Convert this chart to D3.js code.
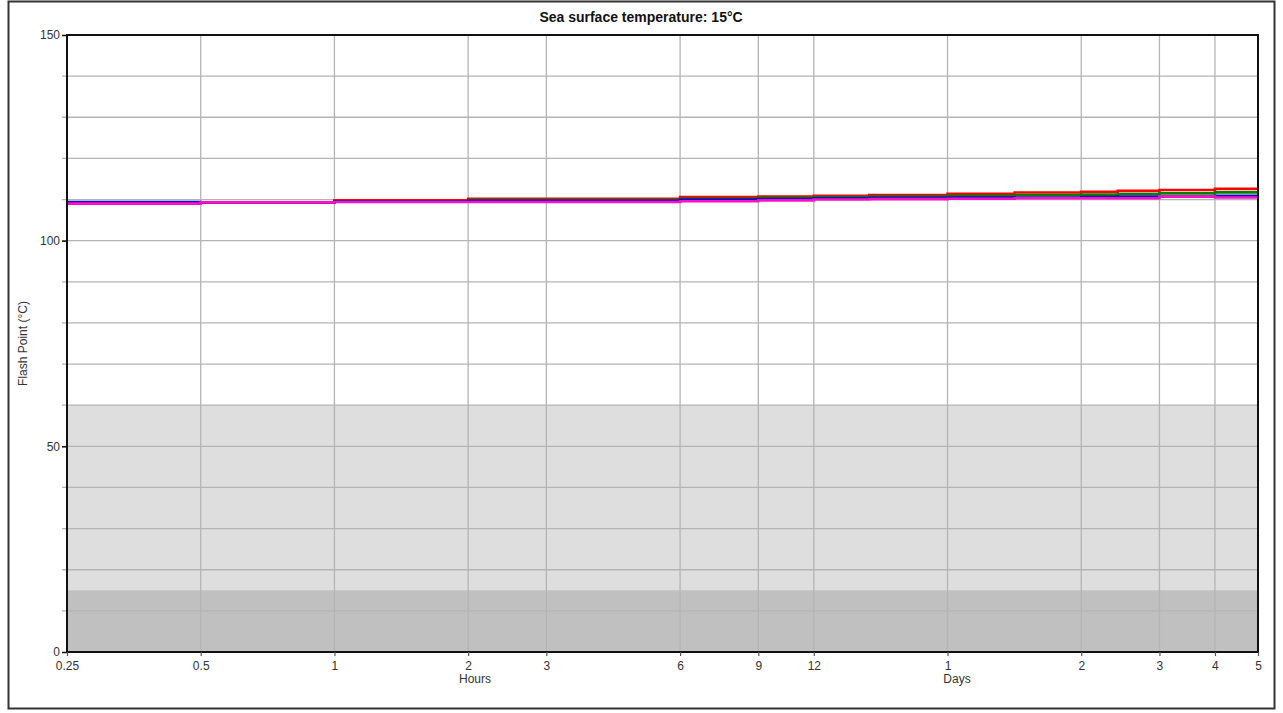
<!DOCTYPE html>
<html>
<head>
<meta charset="utf-8">
<script src="https://cdn.jsdelivr.net/npm/d3@7"></script>
<style>
  html, body { margin: 0; padding: 0; background: #fff; }
  svg { display: block; font-family: "Liberation Sans", Arial, sans-serif; }
</style>
</head>
<body>
<svg id="chart" width="1283" height="713"></svg>
<script>
// Elapsed time (hours) at which each step of the flash point curves begins
const timesHours = [0.25, 0.5, 1, 2, 6, 9, 12, 16, 24, 34, 48, 58, 72, 96, 120];

// Flash point (°C) per oil component curve
const seriesRed     = [109.3, 109.3, 109.8, 110.2, 110.6, 110.7, 110.9, 111.1, 111.4, 111.7, 111.9, 112.1, 112.3, 112.6, 112.6];
const seriesGreen   = [109.2, 109.3, 109.6, 109.9, 110.2, 110.4, 110.6, 110.7, 110.9, 111.1, 111.2, 111.35, 111.5, 111.75, 111.75];
const seriesBlue    = [109.4, 109.3, 109.5, 109.7, 110.0, 110.1, 110.3, 110.4, 110.5, 110.5, 110.6, 110.7, 110.7, 110.9, 110.9];
const seriesMagenta = [109.0, 109.3, 109.4, 109.4, 109.6, 109.8, 110.0, 110.1, 110.2, 110.3, 110.3, 110.3, 110.7, 110.5, 110.5];

const seriesColors = ["#ff0000", "#008000", "#1010c0", "#ff10c8"];

// Tick positions (hours) with their printed labels
const xTickHours  = [0.25, 0.5, 1, 2, 3, 6, 9, 12, 24, 48, 72, 96, 120];
const xTickLabels = ["0.25", "0.5", "1", "2", "3", "6", "9", "12", "1", "2", "3", "4", "5"];
const yTickValues = [0, 50, 100, 150];
const yGridValues = [10, 20, 30, 40, 50, 60, 70, 80, 90, 100, 110, 120, 130, 140];

// Hazard bands on the flash point axis
const bandLight = [0, 60];
const bandDark  = [0, 15];

const title = "Sea surface temperature: 15°C";

const svg = d3.select("#chart");
const margin = { left: 67, top: 35, right: 1258, bottom: 652 };

const x = d3.scaleLog().domain([0.25, 120]).range([margin.left, margin.right]);
const y = d3.scaleLinear().domain([0, 150]).range([margin.bottom, margin.top]);

// Outer frame
svg.append("rect")
  .attr("x", 8.5).attr("y", 1.5).attr("width", 1266).attr("height", 707)
  .attr("fill", "none").attr("stroke", "#333").attr("stroke-width", 2);

// Title
svg.append("text")
  .attr("x", 641).attr("y", 22)
  .attr("text-anchor", "middle")
  .attr("font-size", 14).attr("font-weight", "bold").attr("fill", "#111")
  .text(title);

// Shaded bands
svg.append("rect")
  .attr("x", margin.left).attr("width", margin.right - margin.left)
  .attr("y", y(bandLight[1])).attr("height", y(bandLight[0]) - y(bandLight[1]))
  .attr("fill", "#dedede");
svg.append("rect")
  .attr("x", margin.left).attr("width", margin.right - margin.left)
  .attr("y", y(bandDark[1])).attr("height", y(bandDark[0]) - y(bandDark[1]))
  .attr("fill", "#c0c0c0");

// Horizontal grid, extended a little left of the axis as minor ticks
svg.append("g").selectAll("line").data(yGridValues).join("line")
  .attr("x1", margin.left - 5).attr("x2", margin.right)
  .attr("y1", d => y(d)).attr("y2", d => y(d))
  .attr("stroke", "#b4b4b4").attr("stroke-width", 1.3);

// Vertical grid
svg.append("g").selectAll("line").data(xTickHours.slice(1, -1)).join("line")
  .attr("x1", d => x(d)).attr("x2", d => x(d))
  .attr("y1", margin.top).attr("y2", margin.bottom)
  .attr("stroke", "#b4b4b4").attr("stroke-width", 1.3);

// Flash point step curves
const allSeries = [seriesRed, seriesGreen, seriesBlue, seriesMagenta];
const line = d3.line()
  .x((d, i) => x(timesHours[i]))
  .y(d => y(d))
  .curve(d3.curveStepAfter);
svg.append("g").selectAll("path").data(allSeries).join("path")
  .attr("d", d => line(d))
  .attr("fill", "none")
  .attr("stroke", (d, i) => seriesColors[i])
  .attr("stroke-width", 2.6);

// Plot border
svg.append("rect")
  .attr("x", margin.left).attr("y", margin.top)
  .attr("width", margin.right - margin.left).attr("height", margin.bottom - margin.top)
  .attr("fill", "none").attr("stroke", "#111").attr("stroke-width", 2);

// Y axis
const yAxis = d3.axisLeft(y).tickValues(yTickValues).tickSize(5).tickPadding(2).tickFormat(d3.format("d"));
const gy = svg.append("g").attr("transform", `translate(${margin.left},0)`).call(yAxis);
gy.select(".domain").remove();
gy.selectAll(".tick line").attr("stroke", "#111").attr("stroke-width", 1.5);
gy.selectAll(".tick text").attr("font-size", 12).attr("fill", "#333")
  .attr("font-family", "Liberation Sans, Arial, sans-serif");

// X axis (log time, hours then days)
const xAxis = d3.axisBottom(x).tickValues(xTickHours).tickSize(4).tickPadding(5)
  .tickFormat((d, i) => xTickLabels[i]);
const gx = svg.append("g").attr("transform", `translate(0,${margin.bottom})`).call(xAxis);
gx.select(".domain").remove();
gx.selectAll(".tick line").attr("stroke", "#555").attr("stroke-width", 1.2);
gx.selectAll(".tick text").attr("font-size", 12).attr("fill", "#333")
  .attr("font-family", "Liberation Sans, Arial, sans-serif");

// Axis titles
svg.append("text").attr("x", 475).attr("y", 683)
  .attr("text-anchor", "middle").attr("font-size", 12).attr("fill", "#333").text("Hours");
svg.append("text").attr("x", 957).attr("y", 683)
  .attr("text-anchor", "middle").attr("font-size", 12).attr("fill", "#333").text("Days");
svg.append("text")
  .attr("transform", `translate(27,${(margin.top + margin.bottom) / 2}) rotate(-90)`)
  .attr("text-anchor", "middle").attr("font-size", 12).attr("fill", "#333")
  .text("Flash Point (°C)");
</script>
</body>
</html>
